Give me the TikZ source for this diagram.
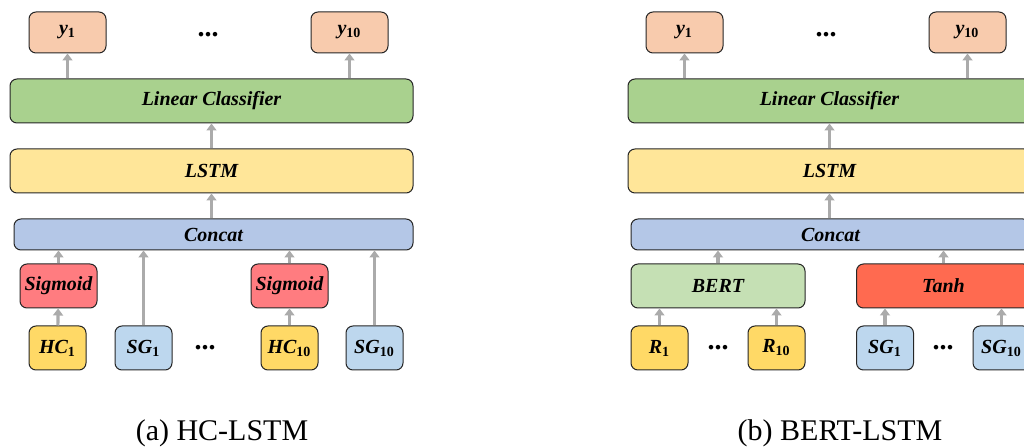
\documentclass[tikz,border=0pt]{standalone}
\usepackage{fontspec}
\setmainfont{Liberation Serif}
\usetikzlibrary{arrows.meta, positioning}

\definecolor{outcol}{HTML}{F8CBAD}
\definecolor{lincol}{HTML}{A9D18E}
\definecolor{lstmcol}{HTML}{FFE699}
\definecolor{catcol}{HTML}{B4C7E7}
\definecolor{sigcol}{HTML}{FF7C80}
\definecolor{hccol}{HTML}{FFD966}
\definecolor{sgcol}{HTML}{BDD7EE}
\definecolor{bertcol}{HTML}{C5E0B4}
\definecolor{tanhcol}{HTML}{FF6A50}

% letters in bold italic, index in bold upright
\newcommand{\lab}[2]{#1\textsubscript{\upshape #2}}

\begin{document}
\begin{tikzpicture}[
        x=0.5pt, y=-0.5pt,
        box/.style={draw=black!85, line width=0.5pt, rounded corners=3.5pt, inner sep=0pt,
            font=\fontsize{10}{12}\selectfont\bfseries\itshape},
        outbox/.style={box, fill=outcol, minimum width=38.5pt, minimum height=20.5pt},
        widebox/.style={box, minimum width=201.5pt, minimum height=22pt},
        catbox/.style={box, fill=catcol, minimum width=199.5pt, minimum height=15.5pt},
        actbox/.style={box, minimum width=38.5pt, minimum height=22pt},
        inbox/.style={box, minimum width=28.5pt, minimum height=22pt},
        encbox/.style={box, minimum width=87pt, minimum height=22pt},
        arr/.style={draw=black!33, line width=1.6pt, -{Triangle[width=5pt,length=3.5pt]}},
        dots/.style={inner sep=0pt, font=\fontsize{14}{14}\selectfont\bfseries},
        capt/.style={inner sep=0pt, font=\fontsize{15}{18}\selectfont}
    ]
        \clip (0,0) rectangle (1024,448);

        % (a) HC-LSTM
        \node[outbox] (ay1) at (67.5,32.5) {\lab{y}{1}};
        \node[outbox] (ay10) at (349.5,32.5) {\lab{y}{10}};
        \node[dots] (ayd) at (208,35) {...};
        \node[widebox, fill=lincol] (alin) at (211.5,101) {Linear Classifier};
        \node[widebox, fill=lstmcol] (alstm) at (211.5,171) {LSTM};
        \node[catbox] (acat) at (213.5,234.5) {Concat};
        \node[actbox, fill=sigcol] (asig1) at (58.5,286) {Sigmoid};
        \node[actbox, fill=sigcol] (asig10) at (289.5,286) {Sigmoid};
        \node[inbox, fill=hccol] (ahc1) at (57.5,348) {\lab{HC}{1}};
        \node[inbox, fill=sgcol] (asg1) at (143.5,348) {\lab{SG}{1}};
        \node[dots] (axd) at (205,348) {...};
        \node[inbox, fill=hccol] (ahc10) at (289.5,348) {\lab{HC}{10}};
        \node[inbox, fill=sgcol] (asg10) at (374.5,348) {\lab{SG}{10}};
        \node[capt] (acap) at (222,433) {(a) HC-LSTM};

        \draw[arr] (alin.north -| ay1) -- (ay1.south);
        \draw[arr] (alin.north -| ay10) -- (ay10.south);
        \draw[arr] (alstm) -- (alin);
        \draw[arr] (acat.north -| alstm) -- (alstm.south);
        \draw[arr] (asig1) -- (acat.south -| asig1);
        \draw[arr] (asig10) -- (acat.south -| asig10);
        \draw[arr] (ahc1) -- (asig1);
        \draw[arr] (ahc10) -- (asig10);
        \draw[arr] (asg1) -- (acat.south -| asg1);
        \draw[arr] (asg10) -- (acat.south -| asg10);

        % (b) BERT-LSTM
        \node[outbox] (by1) at (684.5,32.5) {\lab{y}{1}};
        \node[outbox] (by10) at (967.5,32.5) {\lab{y}{10}};
        \node[dots] (byd) at (826,35) {...};
        \node[widebox, fill=lincol] (blin) at (829.5,101) {Linear Classifier};
        \node[widebox, fill=lstmcol] (blstm) at (829.5,171) {LSTM};
        \node[catbox] (bcat) at (830.5,234.5) {Concat};
        \node[encbox, fill=bertcol] (bbert) at (718,286) {BERT};
        \node[encbox, fill=tanhcol] (btanh) at (943.5,286) {Tanh};
        \node[inbox, fill=hccol] (br1) at (659.5,348) {\lab{R}{1}};
        \node[dots] (brd) at (718,348) {...};
        \node[inbox, fill=hccol] (br10) at (776.5,348) {\lab{R}{10}};
        \node[inbox, fill=sgcol] (bsg1) at (885,348) {\lab{SG}{1}};
        \node[dots] (bsd) at (943,348) {...};
        \node[inbox, fill=sgcol] (bsg10) at (1001.5,348) {\lab{SG}{10}};
        \node[capt] (bcap) at (840,433) {(b) BERT-LSTM};

        \draw[arr] (blin.north -| by1) -- (by1.south);
        \draw[arr] (blin.north -| by10) -- (by10.south);
        \draw[arr] (blstm) -- (blin);
        \draw[arr] (bcat.north -| blstm) -- (blstm.south);
        \draw[arr] (bbert) -- (bcat.south -| bbert);
        \draw[arr] (btanh) -- (bcat.south -| btanh);
        \draw[arr] (br1) -- (bbert.south -| br1);
        \draw[arr] (br10) -- (bbert.south -| br10);
        \draw[arr] (bsg1) -- (btanh.south -| bsg1);
        \draw[arr] (bsg10) -- (btanh.south -| bsg10);
    \end{tikzpicture}
\end{document}
